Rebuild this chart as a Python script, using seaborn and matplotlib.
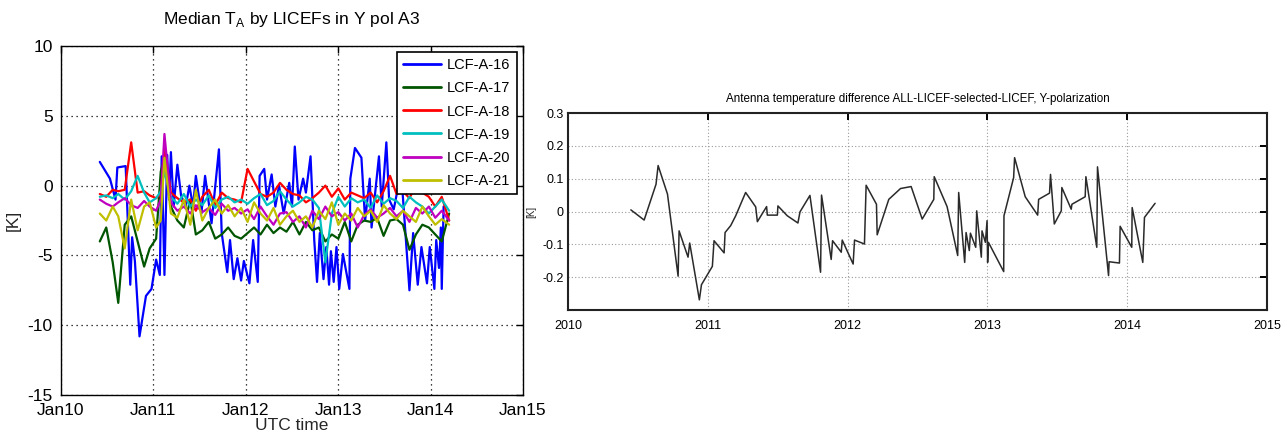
import numpy as np
import pandas as pd
import matplotlib
matplotlib.use("Agg")
import matplotlib.pyplot as plt
import matplotlib.dates as mdates
import seaborn as sns

# ---------------- data: median antenna temperature per LICEF (decimal years) ----------------
series_names = ["LCF-A-16", "LCF-A-17", "LCF-A-18", "LCF-A-19", "LCF-A-20", "LCF-A-21"]
series_colors = ["#0000ff", "#005500", "#ff0000", "#00bfbf", "#bf00bf", "#bfbf00"]

t16 = [2010.42, 2010.53, 2010.59, 2010.61, 2010.70, 2010.72, 2010.75, 2010.77, 2010.80, 2010.85,
       2010.92, 2010.98, 2011.03, 2011.07, 2011.09, 2011.12, 2011.15, 2011.17, 2011.19, 2011.22,
       2011.26, 2011.30, 2011.35, 2011.39, 2011.43, 2011.46, 2011.52, 2011.56, 2011.63, 2011.71,
       2011.74, 2011.80, 2011.83, 2011.87, 2011.91, 2011.95, 2011.98, 2012.04, 2012.08, 2012.13,
       2012.15, 2012.20, 2012.23, 2012.28, 2012.32, 2012.36, 2012.41, 2012.47, 2012.50, 2012.53,
       2012.57, 2012.62, 2012.65, 2012.70, 2012.74, 2012.77, 2012.80, 2012.84, 2012.87, 2012.90,
       2012.92, 2012.95, 2012.98, 2013.01, 2013.05, 2013.12, 2013.13, 2013.18, 2013.25, 2013.29,
       2013.34, 2013.36, 2013.44, 2013.47, 2013.52, 2013.55, 2013.60, 2013.68, 2013.77, 2013.81,
       2013.86, 2013.90, 2013.96, 2013.99, 2014.04, 2014.06, 2014.09, 2014.11, 2014.12, 2014.14]
v16 = [1.7, 0.5, -1.0, 1.3, 1.4, -2.0, -7.1, -3.7, -5.4, -10.8,
       -7.9, -7.4, -5.3, -6.4, 2.1, -6.4, 2.2, -1.0, 2.4, -1.5,
       1.5, -0.7, -1.5, 0.0, -1.5, 0.7, -2.0, 0.7, -2.7, 2.6,
       -3.4, -6.2, -3.9, -6.7, -5.2, -6.8, -5.4, -7.0, -3.9, -6.9,
       0.7, 1.2, -1.0, 0.8, -1.5, 0.0, -2.0, 0.2, -1.5, 2.8,
       -1.0, 0.5, -0.5, 2.1, -3.9, -6.9, -3.4, -6.7, -4.4, -7.1,
       -4.7, -6.9, -4.4, -7.4, -4.9, -7.4, 0.5, 2.7, 2.0, -2.5,
       0.5, -3.0, 2.1, -1.5, 3.1, -1.0, -1.7, 1.0, -7.5, -3.4,
       -7.1, -4.4, -7.0, -4.4, -7.4, -3.9, -5.9, -3.0, -7.4, -1.5]

t_grid = [2010.42, 2010.49, 2010.56, 2010.62, 2010.69, 2010.76, 2010.83, 2010.90, 2010.96, 2011.03,
          2011.08, 2011.12, 2011.19, 2011.26, 2011.33, 2011.40, 2011.46, 2011.53, 2011.60, 2011.67,
          2011.74, 2011.81, 2011.88, 2011.95, 2012.02, 2012.09, 2012.16, 2012.23, 2012.30, 2012.37,
          2012.44, 2012.51, 2012.58, 2012.65, 2012.72, 2012.79, 2012.86, 2012.93, 2013.00, 2013.07,
          2013.14, 2013.21, 2013.28, 2013.35, 2013.42, 2013.49, 2013.56, 2013.63, 2013.70, 2013.77,
          2013.84, 2013.91, 2013.98, 2014.05, 2014.12, 2014.20]
v17 = [-4.0, -3.0, -5.5, -8.4, -2.8, -2.2, -4.0, -5.8, -4.5, -3.8,
       1.0, 2.0, -1.5, -2.5, -3.0, -1.0, -3.5, -3.2, -2.6, -3.8,
       -3.5, -3.0, -3.6, -3.8, -3.4, -3.0, -3.5, -2.8, -3.4, -3.0,
       -3.3, -2.6, -3.5, -2.6, -3.2, -3.0, -4.0, -3.5, -3.8, -2.6,
       -4.0, -2.8, -2.5, -2.6, -2.3, -3.6, -2.5, -2.4, -2.8, -4.6,
       -3.5, -2.8, -3.0, -3.5, -4.0, -2.0]
v18 = [-0.6, -0.8, -0.3, -0.4, -0.3, 3.1, -0.5, -0.4, -0.7, -0.9,
       -0.6, 2.6, -0.5, -0.9, -1.2, -1.0, -1.8, -0.8, -0.3, -1.4,
       -0.5, -0.9, -1.0, -1.2, 1.2, 0.3, -0.6, -0.8, -0.5, 0.2,
       -0.3, -0.6, -0.7, -1.2, -0.9, -0.5, 0.0, -0.8, -0.2, -1.0,
       -0.5, -0.7, -0.9, -0.5, -1.2, -0.4, 0.7, -0.6, -0.4, -0.9,
       0.0, -0.5, -0.8, -1.5, -0.8, -2.5]
v19 = [-0.8, -0.7, -0.9, -0.6, -1.0, -0.4, 0.7, -0.5, -1.2, -0.9,
       -0.4, 1.0, -0.8, -1.3, -0.6, -1.5, -1.0, -1.4, -0.7, -1.6,
       -1.0, -0.8, -1.2, -1.0, -1.3, -0.9, -0.6, -1.4, -1.1, -0.4,
       -1.0, -1.5, -1.2, -0.8, -1.0, -1.6, -5.5, -2.0, -0.8, -1.5,
       -0.9, -1.2, -1.0, -1.6, -0.7, -1.3, -0.9, -1.1, -1.6, -0.8,
       -1.2, -1.5, -2.0, -1.5, -1.0, -1.8]
v20 = [-1.0, -1.3, -1.5, -1.2, -0.9, -1.4, -1.6, -1.1, -1.5, -1.8,
       -1.0, 3.7, -1.2, -1.8, -1.5, -2.0, -1.4, -1.9, -1.6, -2.1,
       -1.3, -1.8, -1.6, -2.0, -1.7, -2.4, -1.5, -2.2, -2.8, -2.0,
       -1.9, -2.6, -2.2, -3.0, -1.8, -2.4, -1.5, -2.2, -1.9, -2.5,
       -2.0, -3.0, -2.1, -1.7, -2.3, -2.0, -1.6, -2.2, -1.8, -2.6,
       -1.6, -2.0, -1.5, -2.3, -1.8, -2.5]
v21 = [-2.0, -2.5, -1.5, -2.2, -4.5, -1.0, -3.2, -1.5, -1.2, -3.0,
       -2.5, 2.0, -2.0, -2.3, -1.0, -2.8, -0.3, -2.5, -1.6, -1.0,
       -2.0, -1.4, -2.2, -1.6, -2.6, -1.2, -2.0, -2.5, -1.6, -2.8,
       -2.2, -1.8, -2.6, -2.2, -3.0, -1.8, -2.4, -1.2, -2.8, -2.0,
       -2.5, -1.6, -2.2, -1.8, -2.6, -1.4, -2.0, -2.4, -1.8, -2.2,
       -2.6, -1.5, -2.2, -2.8, -2.4, -2.8]

# ---------------- data: ALL-LICEF minus selected-LICEF difference ----------------
diff_t = [2010.450, 2010.545, 2010.630, 2010.645, 2010.712, 2010.788, 2010.795, 2010.859, 2010.871, 2010.940,
          2010.955, 2011.033, 2011.045, 2011.117, 2011.124, 2011.164, 2011.200, 2011.271, 2011.343, 2011.355,
          2011.421, 2011.426, 2011.498, 2011.502, 2011.569, 2011.645, 2011.660, 2011.731, 2011.807, 2011.814,
          2011.883, 2011.893, 2011.955, 2011.962, 2012.040, 2012.050, 2012.121, 2012.133, 2012.207, 2012.212,
          2012.295, 2012.379, 2012.455, 2012.534, 2012.617, 2012.620, 2012.712, 2012.788, 2012.795, 2012.838,
          2012.848, 2012.871, 2012.879, 2012.917, 2012.924, 2012.957, 2012.962, 2012.986, 2012.998, 2013.002,
          2013.008, 2013.117, 2013.119, 2013.188, 2013.195, 2013.271, 2013.360, 2013.367, 2013.445, 2013.452,
          2013.479, 2013.529, 2013.533, 2013.600, 2013.605, 2013.700, 2013.705, 2013.783, 2013.788, 2013.867,
          2013.871, 2013.945, 2013.950, 2014.033, 2014.036, 2014.112, 2014.124, 2014.200]
diff_v = [0.005, -0.026, 0.083, 0.140, 0.053, -0.197, -0.059, -0.139, -0.096, -0.269,
          -0.223, -0.167, -0.089, -0.126, -0.064, -0.043, -0.013, 0.058, 0.014, -0.031,
          0.015, -0.011, -0.011, 0.017, -0.013, -0.035, -0.001, 0.049, -0.185, 0.050,
          -0.146, -0.089, -0.124, -0.087, -0.160, -0.087, -0.099, 0.080, 0.022, -0.071,
          0.037, 0.070, 0.076, -0.023, 0.037, 0.106, 0.015, -0.134, 0.058, -0.155,
          -0.064, -0.119, -0.066, -0.109, 0.002, -0.139, -0.059, -0.094, -0.028, -0.155,
          -0.094, -0.183, -0.013, 0.103, 0.164, 0.045, -0.011, 0.037, 0.056, 0.113,
          -0.038, 0.002, 0.073, 0.007, 0.022, 0.045, 0.106, -0.109, 0.136, -0.195,
          -0.153, -0.157, -0.045, -0.109, 0.012, -0.155, -0.018, 0.025]

left_yticks = [-15, -10, -5, 0, 5, 10]
left_xtick_years = [2010, 2011, 2012, 2013, 2014, 2015]
right_yticks = [-0.3, -0.2, -0.1, 0, 0.1, 0.2, 0.3]
right_ytick_labels = ["", "-0.2", "-0.1", "0", "0.1", "0.2", "0.3"]
right_xticks = [2010, 2011, 2012, 2013, 2014, 2015]


def to_timestamp(decimal_year):
    year = int(np.floor(decimal_year))
    start = pd.Timestamp(year=year, month=1, day=1)
    end = pd.Timestamp(year=year + 1, month=1, day=1)
    return start + (end - start) * (decimal_year - year)


frames = []
for name, t, v in zip(series_names, [t16, t_grid, t_grid, t_grid, t_grid, t_grid],
                      [v16, v17, v18, v19, v20, v21]):
    frames.append(pd.DataFrame({"date": [to_timestamp(x) for x in t], "value": v, "series": name}))
licef_df = pd.concat(frames, ignore_index=True)
diff_df = pd.DataFrame({"year": diff_t, "diff": diff_v})

sns.set_theme(style="white")
plt.rcParams["font.family"] = ["Liberation Sans", "DejaVu Sans"]
plt.rcParams["axes.unicode_minus"] = False
plt.rcParams["axes.edgecolor"] = "black"
plt.rcParams["xtick.color"] = "black"
plt.rcParams["ytick.color"] = "black"
plt.rcParams["text.color"] = "black"

fig = plt.figure(figsize=(12.87, 4.34), dpi=100)
ax1 = fig.add_axes([0.0474, 0.0899, 0.359, 0.804])
ax2 = fig.add_axes([0.4413, 0.2857, 0.5431, 0.4539])

# ---- left panel ----
sns.lineplot(data=licef_df, x="date", y="value", hue="series", hue_order=series_names,
             palette=series_colors, estimator=None, linewidth=1.6, ax=ax1)
ax1.set_xlim(to_timestamp(2010), to_timestamp(2015))
ax1.set_ylim(-15, 10)
ax1.set_yticks(left_yticks)
ax1.set_xticks([to_timestamp(y) for y in left_xtick_years])
ax1.xaxis.set_major_formatter(mdates.DateFormatter("%b%y"))
ax1.grid(True, color="black", linestyle=(0, (1, 3)), linewidth=0.9)
ax1.tick_params(direction="in", length=5, width=1, top=True, right=True,
                labelsize=12.5, pad=6)
for s in ax1.spines.values():
    s.set_linewidth(1.0)
    s.set_color("black")
ax1.set_xlabel("UTC time", fontsize=12.5, labelpad=0)
ax1.set_ylabel("[K]", fontsize=12.5)
ax1.yaxis.set_label_coords(-0.088, 0.5)
ax1.set_title(r"Median T$_\mathregular{A}$ by LICEFs in Y pol A3", fontsize=12.5, pad=16)
leg = ax1.legend(loc="upper right", fontsize=10.5, frameon=True, fancybox=False,
                 edgecolor="black", framealpha=1, handlelength=2.6, labelspacing=0.62,
                 borderaxespad=0.4, borderpad=0.45, handletextpad=0.4)
leg.get_frame().set_linewidth(1.2)
for line in leg.get_lines():
    line.set_linewidth(2.0)

# ---- right panel ----
sns.lineplot(data=diff_df, x="year", y="diff", estimator=None, color="#2a2a2a",
             linewidth=1.1, ax=ax2)
ax2.set_xlim(2010, 2015)
ax2.set_ylim(-0.3, 0.3)
ax2.set_yticks(right_yticks)
ax2.set_yticklabels(right_ytick_labels)
ax2.set_xticks(right_xticks)
ax2.set_xticklabels([str(y) for y in right_xticks])
ax2.grid(True, color="#9a9a9a", linestyle=(0, (1, 2)), linewidth=0.8)
ax2.tick_params(direction="in", length=5, width=1.4, top=True, right=True, labelsize=9)
ax2.tick_params(axis="x", pad=7)
ax2.tick_params(axis="y", pad=3)
for s in ax2.spines.values():
    s.set_linewidth(1.5)
    s.set_color("#222222")
ax2.set_xlabel("")
ax2.set_ylabel("[K]", fontsize=7)
ax2.yaxis.set_label_coords(-0.046, 0.5)
ax2.set_title("Antenna temperature difference ALL-LICEF-selected-LICEF, Y-polarization",
              fontsize=8.4, pad=8)

fig.savefig("out.png", dpi=100)
